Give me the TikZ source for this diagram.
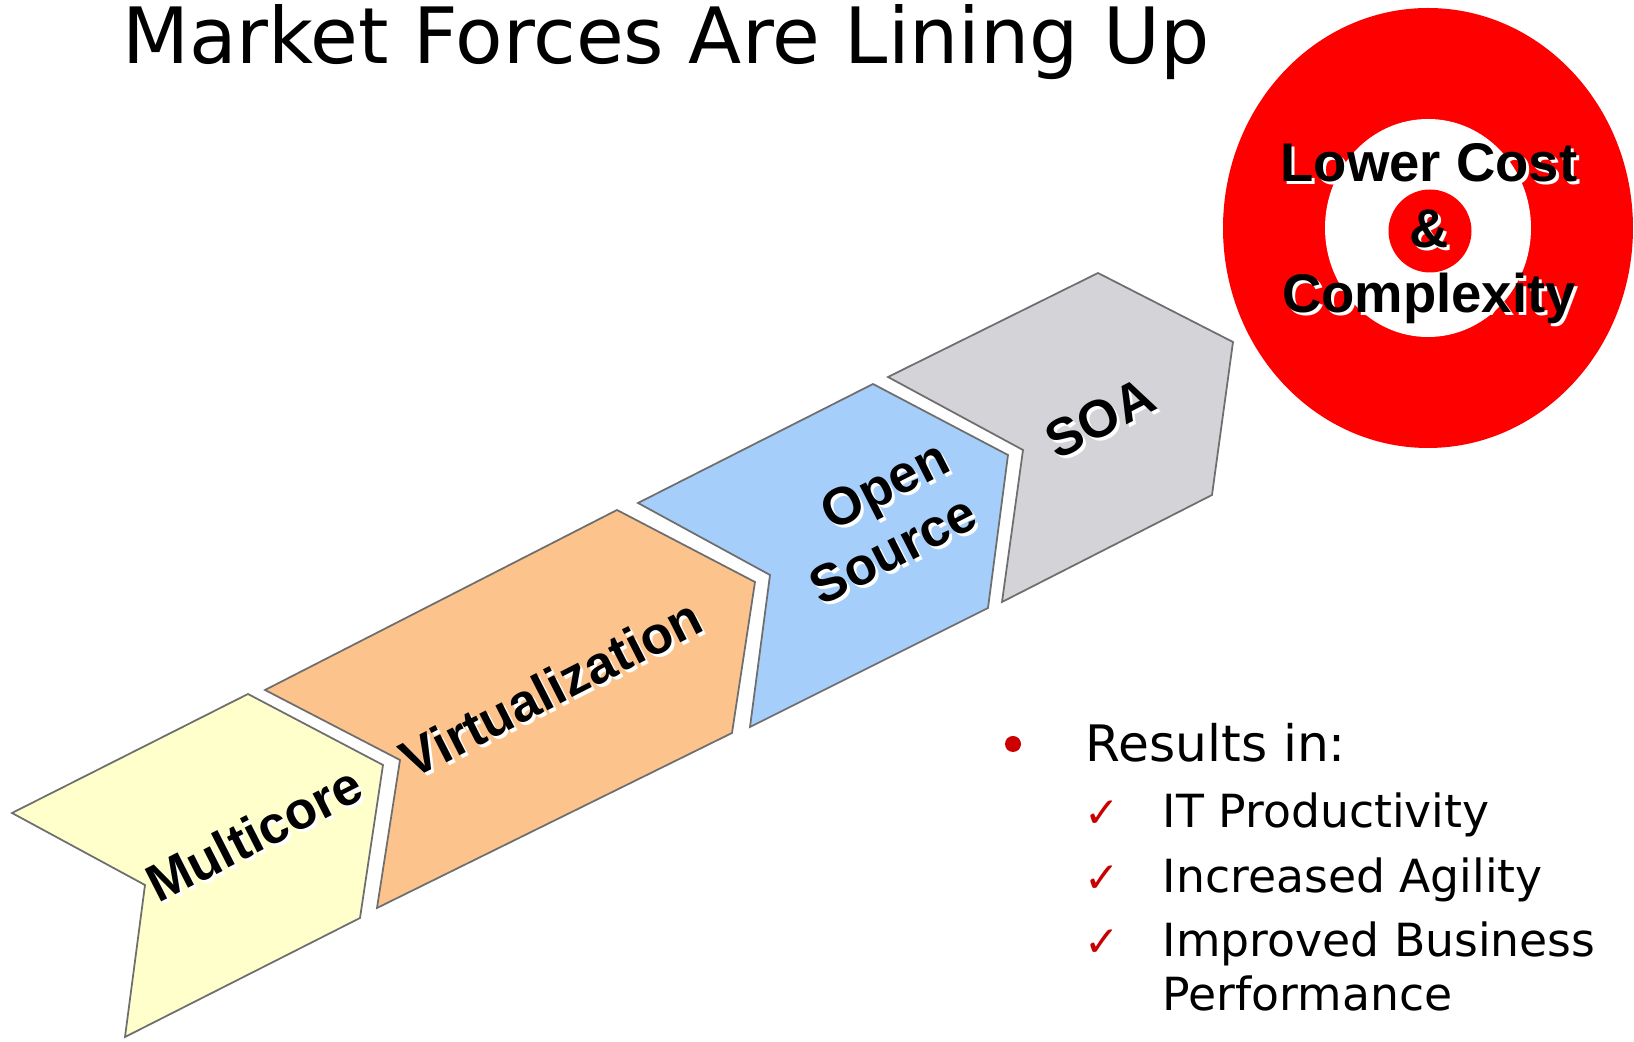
\documentclass[tikz,border=0pt]{standalone}
\usepackage{tikz}
\usepackage{fontspec}
\usepackage{xcolor}
\setmainfont{DejaVu Sans}
\newfontfamily\labelfont{Liberation Sans}
\newfontfamily\checkfont{DejaVu Sans}

\definecolor{multicoreyellow}{RGB}{255,255,204}
\definecolor{virtorange}{RGB}{252,196,140}
\definecolor{openblue}{RGB}{166,206,250}
\definecolor{soagray}{RGB}{212,212,216}
\definecolor{chevronline}{RGB}{110,110,110}
\definecolor{targetred}{RGB}{255,0,0}
\definecolor{bulletred}{RGB}{204,0,0}
\definecolor{checkred}{RGB}{200,0,0}

\newcommand\myshadowshift{0.3mm}
% white shadow first, black text on top
\newcommand\shadowtext[4]{%
	\node[forcetext, white, xshift=\myshadowshift, yshift=-\myshadowshift, rotate=#3] at (#2) {#4};
	\node[forcetext, rotate=#3] (#1) at (#2) {#4};
}

\tikzset{
	chevron/.style={draw=chevronline, line width=0.5pt, line join=miter},
	forcetext/.style={font=\labelfont\bfseries\fontsize{15}{15.5}\selectfont, align=center, inner sep=0pt},
	resulttext/.style={font=\fontsize{13}{15.5}\selectfont, anchor=base west, inner sep=0pt},
	checktext/.style={font=\checkfont\fontsize{12}{14}\selectfont, text=checkred, anchor=base west, inner sep=0pt},
}

\begin{document}
\begin{tikzpicture}[x=0.1mm, y=-0.1mm]
			\useasboundingbox (0,0) rectangle (1634,1042);
			% title
			\node[font=\fontsize{22.1}{26}\selectfont, anchor=base, inner sep=0pt] (title) at (666,64) {Market Forces Are Lining Up};
			% chevrons
			\draw[chevron, fill=multicoreyellow] (12,813) -- (248,694) -- (383,765) -- (360,918) -- (125,1037) -- (145,885) -- cycle;
			\draw[chevron, fill=virtorange] (265,690) -- (617,510) -- (755,582) -- (732,733) -- (377,908) -- (400,760) -- cycle;
			\draw[chevron, fill=openblue] (638,503) -- (873,384) -- (1008,455) -- (988,608) -- (750,727) -- (770,575) -- cycle;
			\draw[chevron, fill=soagray] (888,377) -- (1098,273) -- (1233,342) -- (1212,495) -- (1002,602) -- (1023,450) -- cycle;
			\shadowtext{multicore}{254,834}{27}{Multicore}
			\shadowtext{virt}{551,688}{27}{Virtualization}
			\begin{scope}[forcetext/.append style={align=right, font=\labelfont\bfseries\fontsize{15}{17.7}\selectfont}]
				\shadowtext{opensource}{879,522}{27}{Open\\Source}
			\end{scope}
			\shadowtext{soa}{1100,418}{27}{SOA}
			% target
			\fill[targetred] (1428,228) ellipse [x radius=20.5mm, y radius=22mm];
			\fill[white] (1428,228) ellipse [x radius=10.3mm, y radius=10.9mm];
			\fill[targetred] (1430,231) circle [radius=4.15mm];
			\begin{scope}[forcetext/.append style={font=\labelfont\bfseries\fontsize{15.5}{18.6}\selectfont}]
				\shadowtext{goal}{1429,234}{0}{Lower Cost\\\&\\Complexity}
			\end{scope}
			% results list
			\fill[bulletred] (1013,744) circle [radius=0.8mm];
			\node[resulttext, font=\fontsize{14.3}{17}\selectfont] (results) at (1085,762) {Results in:};
			\foreach \name/\ypos/\txt in {prod/828/IT Productivity, agil/893/Increased Agility, impr/957/Improved Business}{
				\node[checktext] (\name check) at (1084,\ypos) {✓};
				\node[resulttext] (\name) at (1162,\ypos) {\txt};
			}
			\node[resulttext] (perf) at (1162,1011) {Performance};
		\end{tikzpicture}
\end{document}
